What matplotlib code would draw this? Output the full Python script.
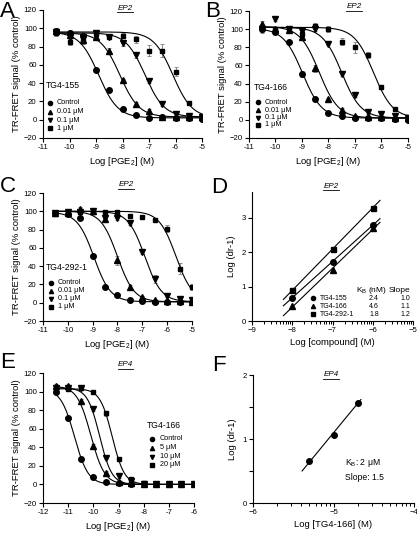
import numpy as np
import matplotlib
matplotlib.use("Agg")
import matplotlib.pyplot as plt
from matplotlib.lines import Line2D
from matplotlib.ticker import FixedLocator

plt.rcParams['font.family'] = ['Liberation Sans', 'DejaVu Sans']
plt.rcParams['mathtext.fontset'] = 'custom'
plt.rcParams['mathtext.rm'] = 'Liberation Sans'
plt.rcParams['mathtext.it'] = 'Liberation Sans:italic'
plt.rcParams['mathtext.default'] = 'regular'

# ---------------- data ----------------
x_pge_abc = [-10.5, -10, -9.5, -9, -8.5, -8, -7.5, -7, -6.5, -6, -5.5, -5]
x_pge_e = [-11.5, -11, -10.5, -10, -9.5, -9, -8.5, -8, -7.5, -7, -6.5, -6]

# Panel A, TG4-155
A_labels = ["Control", "0.01 \u03bcM", "0.1 \u03bcM", "1 \u03bcM"]
A_ctrl = [97, 95, 92, 54.5, 32, 11.5, 4.7, 2, 3, 2, 2, 1]
A_001 = [97, 93, 87, 91, 75.5, 43, 17, 9.8, 3, 3, 3, 3]
A_01 = [96, 90, 91, 94.5, 90, 84, 71, 42, 17.5, 6.5, 3.6, 3]
A_1 = [95, 85, 86, 93.5, 90, 92, 88, 75.6, 75.6, 52.7, 18, 4]
A_ctrl_err = [3, 3, 2, 2, 2, 2, 1, 1, 1, 1, 1, 2]
A_001_err = [3, 3, 3, 2, 3, 2, 2, 2, 1, 1, 1, 1]
A_01_err = [3, 3, 3, 2, 2, 3, 3, 2, 2, 2, 1, 2]
A_1_err = [3, 3, 3, 2, 2, 3, 4, 6, 7, 5, 2, 2]
A_top = [96, 95, 95, 96]
A_bottom = [2, 3, 3, 2]
A_logic50 = [-8.9, -8.1, -7.15, -6.1]
A_hill = [1.2, 1.2, 1.2, 1.2]

# Panel B, TG4-166
B_labels = ["Control", "0.01 \u03bcM", "0.1 \u03bcM", "1 \u03bcM"]
B_ctrl = [100, 97, 86, 50.5, 22.5, 8, 4.4, 2.5, 2.5, 2, 1, 0]
B_001 = [106, 100.7, 99.6, 91.6, 57, 22.5, 11, 4.4, 3, 3, 2, 1.5]
B_01 = [100.7, 111, 100.7, 97.5, 100, 84, 50, 27, 9, 6, 4, 2.5]
B_1 = [100, 100, 100, 95, 104, 100, 86, 80, 71.6, 36, 11.6, 3.6]
B_ctrl_err = [4, 2, 2, 3, 2, 1, 1, 1, 1, 1, 1, 2]
B_001_err = [3, 2, 2, 2, 4, 2, 2, 1, 1, 1, 1, 1]
B_01_err = [3, 2, 2, 3, 2, 2, 2, 2, 2, 2, 1, 2]
B_1_err = [3, 2, 2, 3, 3, 3, 4, 6, 3, 2, 1, 2]
B_top = [101, 103, 102, 102]
B_bottom = [2, 2, 2, 2]
B_logic50 = [-8.98, -8.35, -7.5, -6.3]
B_hill = [1.2, 1.2, 1.2, 1.2]

# Panel C, TG4-292-1
C_labels = ["Control", "0.01 \u03bcM", "0.1 \u03bcM", "1 \u03bcM"]
C_ctrl = [98, 96.7, 93, 51, 17, 8.8, 3.3, 2, 1, 1, 1, 1]
C_001 = [98.5, 98.5, 103, 100, 92, 46.5, 17, 6, 2.5, 2, 1.5, 1]
C_01 = [98.5, 99.5, 99.5, 100, 93, 93, 87.5, 55, 26, 7.3, 3.7, 2.5]
C_1 = [97, 98.5, 99.5, 99, 99, 99, 95, 94, 90, 81, 37, 17]
C_ctrl_err = [2, 2, 1, 2, 2, 1, 1, 1, 1, 1, 1, 1]
C_001_err = [2, 2, 2, 2, 3, 5, 2, 1, 1, 1, 1, 1]
C_01_err = [2, 2, 2, 2, 3, 2, 2, 2, 4, 1, 1, 1]
C_1_err = [2, 2, 2, 2, 2, 2, 2, 2, 2, 4, 6, 3]
C_top = [99, 100, 100, 100]
C_bottom = [1, 1, 1, 2]
C_logic50 = [-8.95, -8.0, -6.9, -5.65]
C_hill = [1.3, 1.3, 1.3, 1.3]

# Panel D, Schild plots
D_x = [-8, -7, -6]
D_names = ["TG4-155", "TG4-166", "TG4-292-1"]
D_kb = ["2.4", "4.6", "1.8"]
D_slope = ["1.0", "1.1", "1.2"]
D_tg155 = [0.68, 1.72, 2.79]
D_tg166 = [0.43, 1.48, 2.69]
D_tg292 = [0.89, 2.09, 3.29]

# Panel E, EP4, TG4-166
E_labels = ["Control", "5 \u03bcM", "10 \u03bcM", "20 \u03bcM"]
E_ctrl = [100, 71.5, 27.7, 8.2, 2.4, 1.7, 0.5, 0, 0, 0, 0, 0]
E_5 = [106, 105.6, 90, 41.5, 12.5, 2.8, 1.5, 0.5, 0, 0, 0, 0]
E_10 = [103.7, 104, 103.7, 81, 29, 9, 3.5, 1, 0, 0, 0, 0]
E_20 = [103, 103, 103.7, 99.4, 76.5, 27.7, 6, 1.7, 0, 0, 0, 0]
E_ctrl_err = [2, 2, 2, 1, 1, 1, 1, 1, 1, 1, 1, 1]
E_5_err = [2, 2, 2, 2, 2, 1, 1, 1, 1, 1, 1, 1]
E_10_err = [2, 2, 2, 2, 2, 2, 1, 1, 1, 1, 1, 1]
E_20_err = [2, 2, 2, 2, 3, 2, 1, 1, 1, 1, 1, 1]
E_top = [103, 106, 104, 103]
E_bottom = [0, 0, 0, 0]
E_logic50 = [-10.75, -10.1, -9.75, -9.25]
E_hill = [1.6, 1.6, 1.8, 1.8]

# Panel F, EP4 Schild
F_x = [-5.301, -5.0, -4.699]
F_y = [0.65, 1.07, 1.57]

# ---------------- layout ----------------
W, H = 417, 536
fig = plt.figure(figsize=(W / 100, H / 100), dpi=100)


def add_ax(l, t, r, b):
    return fig.add_axes([l / W, (H - b) / H, (r - l) / W, (b - t) / H])


def fx(px):
    return px / W


def fy(py):
    return (H - py) / H


TICK_FS = 5.6
LAB_FS = 6.8
LEG_FS = 5.2
LEG_TITLE_FS = 6.2
markers = ['o', '^', 'v', 's']
msz = [4.0, 4.0, 4.0, 3.5]


def style(ax):
    for s in ['top', 'right']:
        ax.spines[s].set_visible(False)
    for s in ['left', 'bottom']:
        ax.spines[s].set_linewidth(0.8)
    ax.tick_params(direction='out', length=3, width=0.8, labelsize=TICK_FS, pad=1.5)
    ax.tick_params(which='minor', direction='out', length=1.8, width=0.7)


def logistic(x, top, bottom, c, h):
    x = np.asarray(x)
    return bottom + (top - bottom) / (1 + 10 ** ((x - c) * h))


def curve_panel(ax, xs, series, errs, tops, bots, cs, hs, xlim, xticks):
    xf = np.linspace(xs[0], xs[-1], 300)
    for i, (ys, es) in enumerate(zip(series, errs)):
        ax.errorbar(xs, ys, yerr=es, fmt='none', ecolor='0.55', elinewidth=0.7,
                    capsize=1.6, capthick=0.7, zorder=2)
        ax.plot(xf, logistic(xf, tops[i], bots[i], cs[i], hs[i]), color='black',
                lw=0.8, zorder=3)
        ax.plot(xs, ys, linestyle='none', marker=markers[i], ms=msz[i],
                color='black', zorder=4)
    ax.set_xlim(*xlim)
    ax.set_ylim(-20, 120)
    ax.set_xticks(xticks)
    ax.set_xticklabels([str(t) for t in xticks])
    ax.set_yticks([-20, 0, 20, 40, 60, 80, 100, 120])
    ax.set_xlabel('Log [PGE$_2$] (M)', fontsize=LAB_FS, labelpad=2.5)
    ax.set_ylabel('TR-FRET signal (% control)', fontsize=LAB_FS, labelpad=2)
    style(ax)


def text_legend(title, title_xy, mk_x, tx_x, ys, labels):
    if title:
        fig.text(fx(title_xy[0]), fy(title_xy[1]), title, fontsize=LEG_TITLE_FS,
                 ha='left', va='center')
    for i, (y, lab) in enumerate(zip(ys, labels)):
        fig.add_artist(Line2D([fx(mk_x)], [fy(y)], marker=markers[i],
                              ms=msz[i] * 0.75, color='black', linestyle='none',
                              transform=fig.transFigure))
        fig.text(fx(tx_x), fy(y), lab, fontsize=LEG_FS, ha='left', va='center')


titles = []


def title(txt, x, y):
    t = fig.text(fx(x), fy(y), txt, fontsize=5.8, style='italic',
                 ha='center', va='center')
    titles.append(t)


# Panel A
axA = add_ax(43, 10, 202, 138)
curve_panel(axA, x_pge_abc, [A_ctrl, A_001, A_01, A_1],
            [A_ctrl_err, A_001_err, A_01_err, A_1_err],
            A_top, A_bottom, A_logic50, A_hill, (-11, -5),
            [-11, -10, -9, -8, -7, -6, -5])
text_legend("TG4-155", (46, 85), 50, 57, [103, 111.5, 120, 128], A_labels)
title("EP2", 125, 8)

# Panel B
axB = add_ax(249, 11, 408, 138)
curve_panel(axB, x_pge_abc, [B_ctrl, B_001, B_01, B_1],
            [B_ctrl_err, B_001_err, B_01_err, B_1_err],
            B_top, B_bottom, B_logic50, B_hill, (-11, -5),
            [-11, -10, -9, -8, -7, -6, -5])
text_legend("TG4-166", (254, 88), 258, 265, [102, 110, 117.5, 125], B_labels)
title("EP2", 354, 7)

# Panel C
axC = add_ax(43, 193, 192, 321)
curve_panel(axC, x_pge_abc, [C_ctrl, C_001, C_01, C_1],
            [C_ctrl_err, C_001_err, C_01_err, C_1_err],
            C_top, C_bottom, C_logic50, C_hill, (-11, -5),
            [-11, -10, -9, -8, -7, -6, -5])
text_legend("TG4-292-1", (46, 268), 51, 58, [283, 291, 299, 307], C_labels)
title("EP2", 126, 185)

# Panel D
axD = add_ax(252, 192, 413, 321)
d_series = [D_tg155, D_tg166, D_tg292]
d_mk = ['o', '^', 's']
xline = np.array([-8.22, -5.82])
for ys, mk in zip(d_series, d_mk):
    p = np.polyfit(D_x, ys, 1)
    axD.plot(xline, np.polyval(p, xline), color='black', lw=0.8)
    axD.plot(D_x, ys, linestyle='none', marker=mk, ms=4.0 if mk != 's' else 3.6,
             color='black')
axD.set_xlim(-9, -5)
axD.set_ylim(0, 3.75)
axD.set_xticks([-9, -8, -7, -6, -5])
axD.set_yticks([0, 1, 2, 3])
minorD = [n + np.log10(k) for n in range(-9, -5) for k in range(2, 10)]
axD.xaxis.set_minor_locator(FixedLocator(minorD))
axD.set_xlabel('Log [compound] (M)', fontsize=LAB_FS, labelpad=2.5)
axD.set_ylabel('Log (dr-1)', fontsize=LAB_FS, labelpad=4)
style(axD)
title("EP2", 331, 186)
fig.text(fx(356), fy(290), 'K$_B$ (nM)', fontsize=6.0, ha='left', va='center')
fig.text(fx(389), fy(290), 'Slope', fontsize=6.0, ha='left', va='center')
for i, (nm, kb, sl) in enumerate(zip(D_names, D_kb, D_slope)):
    y = [298, 306, 314][i]
    fig.add_artist(Line2D([fx(313)], [fy(y)], marker=d_mk[i], ms=3.0,
                          color='black', linestyle='none', transform=fig.transFigure))
    fig.text(fx(320), fy(y), nm, fontsize=5.0, ha='left', va='center')
    fig.text(fx(374), fy(y), kb, fontsize=5.0, ha='center', va='center')
    fig.text(fx(405.5), fy(y), sl, fontsize=5.0, ha='center', va='center')

# Panel E
axE = add_ax(43, 373, 194, 503)
curve_panel(axE, x_pge_e, [E_ctrl, E_5, E_10, E_20],
            [E_ctrl_err, E_5_err, E_10_err, E_20_err],
            E_top, E_bottom, E_logic50, E_hill, (-12, -6),
            [-12, -11, -10, -9, -8, -7, -6])
text_legend("TG4-166", (147, 425), 152, 160, [439, 447.5, 456.5, 465], E_labels)
title("EP4", 125.5, 365)

# Panel F
axF = add_ax(253, 375, 414, 503)
pF = np.polyfit(F_x, F_y, 1)
xlF = np.array([-5.39, -4.66])
axF.plot(xlF, np.polyval(pF, xlF), color='black', lw=0.8)
axF.plot(F_x, F_y, linestyle='none', marker='o', ms=4.0, color='black')
axF.set_xlim(-6, -4)
axF.set_ylim(0, 2)
axF.set_xticks([-6, -5, -4])
axF.set_yticks([0, 1, 2])
axF.yaxis.set_minor_locator(FixedLocator([0.5, 1.5]))
minorF = [n + np.log10(k) for n in range(-6, -4) for k in range(2, 10)]
axF.xaxis.set_minor_locator(FixedLocator(minorF))
axF.set_xlabel('Log [TG4-166] (M)', fontsize=LAB_FS, labelpad=2.5)
axF.set_ylabel('Log (dr-1)', fontsize=LAB_FS, labelpad=4)
style(axF)
axF.tick_params(axis='y', which='minor', length=3, width=0.8)
title("EP4", 331, 375)
fig.text(fx(345), fy(463), 'K$_B$: 2 \u03bcM', fontsize=6.2, ha='left', va='center')
fig.text(fx(345), fy(477), 'Slope: 1.5', fontsize=6.2, ha='left', va='center')

# panel letters
for lab, (x, y) in zip("ABCDEF", [(0, 1), (205, 1), (0, 176), (211, 177), (0, 352), (212, 355)]):
    fig.text(fx(x), fy(y), lab, fontsize=16, ha='left', va='top')

# underline titles
fig.canvas.draw()
r = fig.canvas.get_renderer()
for t in titles:
    bb = t.get_window_extent(renderer=r)
    yb = bb.y0 - 0.3
    fig.add_artist(Line2D([bb.x0 / W, bb.x1 / W], [yb / H, yb / H], lw=0.6,
                          color='black', transform=fig.transFigure))

fig.savefig('out.png', dpi=100)
